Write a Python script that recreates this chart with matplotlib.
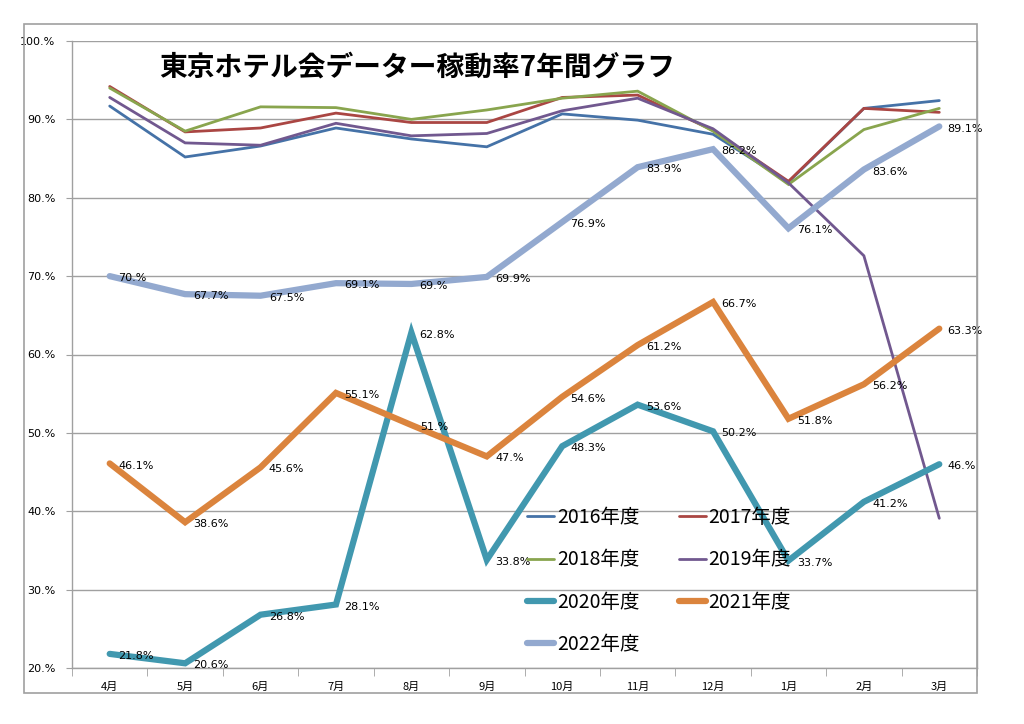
import matplotlib
matplotlib.use("Agg")
import matplotlib.pyplot as plt
from matplotlib.patches import Rectangle
from matplotlib.ticker import FixedLocator

plt.rcParams['font.family'] = ['Noto Sans CJK JP', 'DejaVu Sans']

# --- データ ---
months = ['4月', '5月', '6月', '7月', '8月', '9月', '10月', '11月', '12月', '1月', '2月', '3月']

y2016 = [91.7, 85.2, 86.6, 88.9, 87.5, 86.5, 90.7, 89.9, 88.1, 82.0, 91.4, 92.4]
y2017 = [94.2, 88.4, 88.9, 90.8, 89.6, 89.6, 92.8, 93.1, 88.6, 82.1, 91.4, 90.9]
y2018 = [94.0, 88.5, 91.6, 91.5, 90.0, 91.2, 92.7, 93.6, 88.5, 81.7, 88.7, 91.4]
y2019 = [92.8, 87.0, 86.7, 89.5, 87.9, 88.2, 91.1, 92.7, 88.8, 81.9, 72.6, 39.1]
y2020 = [21.8, 20.6, 26.8, 28.1, 62.8, 33.8, 48.3, 53.6, 50.2, 33.7, 41.2, 46.0]
y2021 = [46.1, 38.6, 45.6, 55.1, 51.0, 47.0, 54.6, 61.2, 66.7, 51.8, 56.2, 63.3]
y2022 = [70.0, 67.7, 67.5, 69.1, 69.0, 69.9, 76.9, 83.9, 86.2, 76.1, 83.6, 89.1]

labels = ['2016年度', '2017年度', '2018年度', '2019年度', '2020年度', '2021年度', '2022年度']
series = [y2016, y2017, y2018, y2019, y2020, y2021, y2022]
colors = ['#4572A7', '#AA4643', '#89A54E', '#71588F', '#4198AF', '#DB843D', '#93A9CF']
widths = [2.0, 2.0, 2.0, 2.0, 4.5, 4.5, 4.5]
with_labels = [False, False, False, False, True, True, True]


def fmt_pct(v):
    # Excel風の "70.%" 表記
    if v == int(v):
        return f"{int(v)}.%"
    return f"{v}%"


W, H = 1024, 724
fig = plt.figure(figsize=(W / 100, H / 100), dpi=100)
ax = fig.add_axes([72 / W, 1 - 668 / H, (977 - 72) / W, (668 - 41) / H])

x = list(range(len(months)))
handles = []
for ys, lab, c, lw, dl in zip(series, labels, colors, widths, with_labels):
    ln, = ax.plot(x, ys, color=c, lw=lw, label=lab, solid_joinstyle='miter',
                  solid_capstyle='round', zorder=3 if lw > 3 else 2)
    handles.append(ln)
    if dl:
        for xi, v in zip(x, ys):
            ax.annotate(fmt_pct(v), (xi, v), xytext=(6, -1.5), textcoords='offset points',
                        ha='left', va='center', fontsize=8, family='DejaVu Sans', zorder=5)

ax.set_xlim(-0.5, len(months) - 0.5)
ax.set_ylim(20, 100)
ax.set_xticks(x)
ax.set_xticklabels(months, fontsize=8)
ax.xaxis.set_minor_locator(FixedLocator([i - 0.5 for i in range(len(months) + 1)]))
ax.tick_params(axis='x', which='major', length=0, pad=10)
ax.tick_params(axis='x', which='minor', length=6, color='#A0A0A0', direction='out')

yt = list(range(20, 101, 10))
ax.set_yticks(yt)
ax.set_yticklabels([f"{v}.%" for v in yt], fontsize=8, family='DejaVu Sans')
ax.tick_params(axis='y', length=4, color='#A0A0A0', pad=8)
ax.yaxis.grid(True, color='#A0A0A0', lw=1)
ax.set_axisbelow(True)

ax.spines['top'].set_visible(False)
for side in ['left', 'bottom', 'right']:
    ax.spines[side].set_color('#A0A0A0')
    ax.spines[side].set_linewidth(1)

# グラフエリアの外枠
fig.patches.append(Rectangle((24 / W, 1 - 693 / H), (977 - 24) / W, (693 - 24) / H,
                             transform=fig.transFigure, fill=False,
                             edgecolor='#A0A0A0', lw=1.2, zorder=0))

fig.text(417 / W, 1 - 67 / H, '東京ホテル会データー稼動率7年間グラフ',
         fontsize=20, fontweight='bold', ha='center', va='center')

# 凡例（行優先の並びにする）
order = [0, 2, 4, 6, 1, 3, 5]
leg = fig.legend([handles[i] for i in order], [labels[i] for i in order],
                 loc='upper left', bbox_to_anchor=(527 / W, 1 - 507 / H),
                 ncol=2, frameon=False, fontsize=14, handlelength=1.4,
                 handletextpad=0.15, columnspacing=2.0, labelspacing=1.1,
                 borderpad=0, borderaxespad=0)

fig.savefig('out.png', dpi=100)
